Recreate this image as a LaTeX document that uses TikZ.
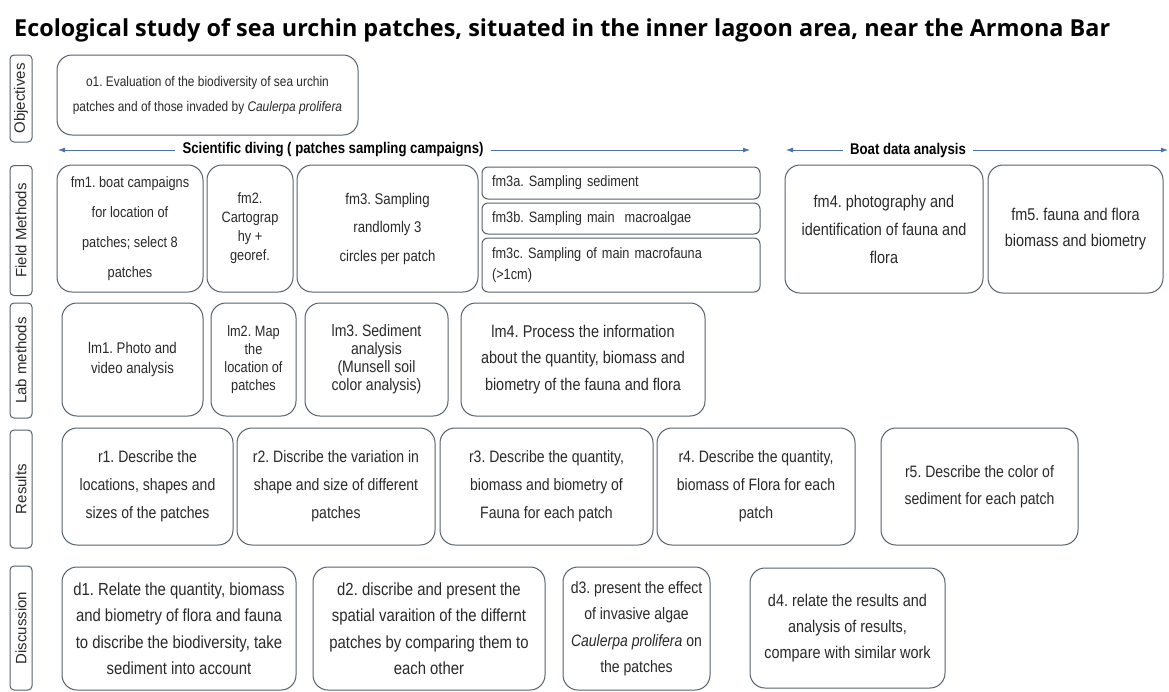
\documentclass[tikz,border=0pt]{standalone}
\usepackage{fontspec}
\setmainfont{Liberation Sans}[FakeStretch=0.85]
\newfontfamily\lblfont{Liberation Sans}
\newfontfamily\ttlfont{Open Sans}
\usetikzlibrary{arrows.meta}
\definecolor{bordc}{HTML}{56616E}
\definecolor{arrc}{HTML}{4A72B0}
\definecolor{txtc}{HTML}{2A2A2A}
\frenchspacing
\tikzset{
  box/.style={draw=bordc, line width=1pt, rounded corners=15pt, align=center, inner sep=0pt, text=txtc},
  sbox/.style={draw=bordc, line width=1pt, rounded corners=6pt, align=left, inner sep=0pt, text=txtc, text width=258pt, minimum width=278pt},
  lbl/.style={draw=bordc, line width=1pt, rounded corners=4pt, rotate=90, minimum height=22pt, inner sep=0pt, text=txtc, font=\lblfont\fontsize{15}{18}\selectfont},
  arr/.style={draw=arrc, line width=0.8pt, -{Latex[length=7pt,width=5pt]}},
  arrtxt/.style={inner sep=0pt, text=black, font=\bfseries\fontsize{15.5}{18}\selectfont},
}
\newcommand{\fz}[2]{\fontsize{#1}{#2}\selectfont}
\begin{document}
\begin{tikzpicture}[x=1pt,y=-1pt]
\useasboundingbox[fill=white] (0,0) rectangle (1169,691);
% title
\node[anchor=base west, inner sep=0pt, text=black] (title) at (14,36)
  {\resizebox{1096pt}{!}{\ttlfont\bfseries\fontsize{20}{24}\selectfont Ecological study of sea urchin patches, situated in the inner lagoon area, near the Armona Bar}};
% row labels
\node[lbl, minimum width=87pt] (lo) at (21,98.5) {Objectives};
\node[lbl, minimum width=130pt] (lf) at (21,230.5) {Field Methods};
\node[lbl, minimum width=115pt] (ll) at (21,360.5) {Lab methods};
\node[lbl, minimum width=118pt] (lr) at (21,489) {Results};
\node[lbl, minimum width=124pt] (ld) at (21,628) {Discussion};
% objectives
\node[box, minimum width=301pt, minimum height=80pt, font=\fz{14}{25}] (o1) at (207.5,95)
  {o1. Evaluation of the biodiversity of sea urchin\\patches and of those invaded by \textit{Caulerpa prolifera}};
% arrows
\coordinate (sdL) at (58,150);
\coordinate (sdR) at (750,150);
\node[arrtxt] (sdT) at (333,150) {Scientific diving ( patches sampling campaigns)};
\draw[arr] (sdT.west) ++(-7pt,0) -- (sdL);
\draw[arr] (sdT.east) ++(7pt,0) -- (sdR);
\coordinate (bdL) at (786,150);
\coordinate (bdR) at (1168,150);
\node[arrtxt] (bdT) at (908,150) {Boat data analysis};
\draw[arr] (bdT.west) ++(-7pt,0) -- (bdL);
\draw[arr] (bdT.east) ++(7pt,0) -- (bdR);
% field methods
\node[box, minimum width=146pt, minimum height=127pt, font=\fz{15}{30}] (fm1) at (130,228.5)
  {fm1. boat campaigns\\for location of\\patches; select 8\\patches};
\node[box, minimum width=86pt, minimum height=127pt, font=\fz{15}{19}] (fm2) at (250,228.5)
  {fm2.\\Cartograp\\hy +\\georef.};
\node[box, minimum width=181pt, minimum height=127pt, font=\fz{15.5}{28.5}] (fm3) at (387.5,228.5)
  {fm3. Sampling\\randlomly 3\\circles per patch};
\node[sbox, minimum height=32pt, font=\fz{15}{21}] (fm3a) at (621,183) {fm3a. Sampling sediment};
\node[sbox, minimum height=31pt, font=\fz{15}{21}] (fm3b) at (621,218.5) {fm3b. Sampling main\ \ macroalgae};
\node[sbox, minimum height=54pt, font=\fz{15}{21}] (fm3c) at (621,265)
  {\makebox[258pt][s]{fm3c. Sampling of main macrofauna}\\(>1cm)};
\node[box, minimum width=198pt, minimum height=128pt, font=\fz{17}{28}] (fm4) at (884,229)
  {fm4. photography and\\identification of fauna and\\flora};
\node[box, minimum width=175pt, minimum height=128pt, font=\fz{17}{26}] (fm5) at (1075.5,229)
  {fm5. fauna and flora\\biomass and biometry};
% lab methods
\node[box, minimum width=141pt, minimum height=113pt, font=\fz{15.5}{20}] (lm1) at (132.5,359.5)
  {lm1. Photo and\\video analysis};
\node[box, minimum width=85pt, minimum height=113pt, font=\fz{15}{18}] (lm2) at (253.5,359.5)
  {lm2. Map\\the\\location of\\patches};
\node[box, minimum width=143pt, minimum height=113pt, font=\fz{16.5}{18}] (lm3) at (376.5,359.5)
  {lm3. Sediment\\analysis\\(Munsell soil\\color analysis)};
\node[box, minimum width=244pt, minimum height=113pt, font=\fz{17}{26.5}] (lm4) at (583,359.5)
  {lm4. Process the information\\about the quantity, biomass and\\biometry of the fauna and flora};
% results
\node[box, minimum width=171pt, minimum height=117pt, font=\fz{16.5}{28}] (r1) at (147.5,486.5)
  {r1. Describe the\\locations, shapes and\\sizes of the patches};
\node[box, minimum width=198pt, minimum height=117pt, font=\fz{16.5}{28}] (r2) at (336,486.5)
  {r2. Discribe the variation in\\shape and size of different\\patches};
\node[box, minimum width=213pt, minimum height=117pt, font=\fz{16.5}{28}] (r3) at (546.5,486.5)
  {r3. Describe the quantity,\\biomass and biometry of\\Fauna for each patch};
\node[box, minimum width=198pt, minimum height=117pt, font=\fz{16.5}{28}] (r4) at (756,486.5)
  {r4. Describe the quantity,\\biomass of Flora for each\\patch};
\node[box, minimum width=197pt, minimum height=117pt, font=\fz{16.5}{27}] (r5) at (979.5,486.5)
  {r5. Describe the color of\\sediment for each patch};
% discussion
\node[box, minimum width=234pt, minimum height=123pt, font=\fz{17.5}{26.5}] (d1) at (179,628.5)
  {d1. Relate the quantity, biomass\\and biometry of flora and fauna\\to discribe the biodiversity, take\\sediment into account};
\node[box, minimum width=232pt, minimum height=123pt, font=\fz{17.5}{26.5}] (d2) at (429,628.5)
  {d2. discribe and present the\\spatial varaition of the differnt\\patches by comparing them to\\each other};
\node[box, minimum width=147pt, minimum height=123pt, font=\fz{16.5}{26.5}] (d3) at (636.5,628.5)
  {d3. present the effect\\of invasive algae\\\textit{Caulerpa prolifera} on\\the patches};
\node[box, minimum width=195pt, minimum height=120pt, font=\fz{17}{26}] (d4) at (847.5,628)
  {d4. relate the results and\\analysis of results,\\compare with similar work};
\end{tikzpicture}
\end{document}
